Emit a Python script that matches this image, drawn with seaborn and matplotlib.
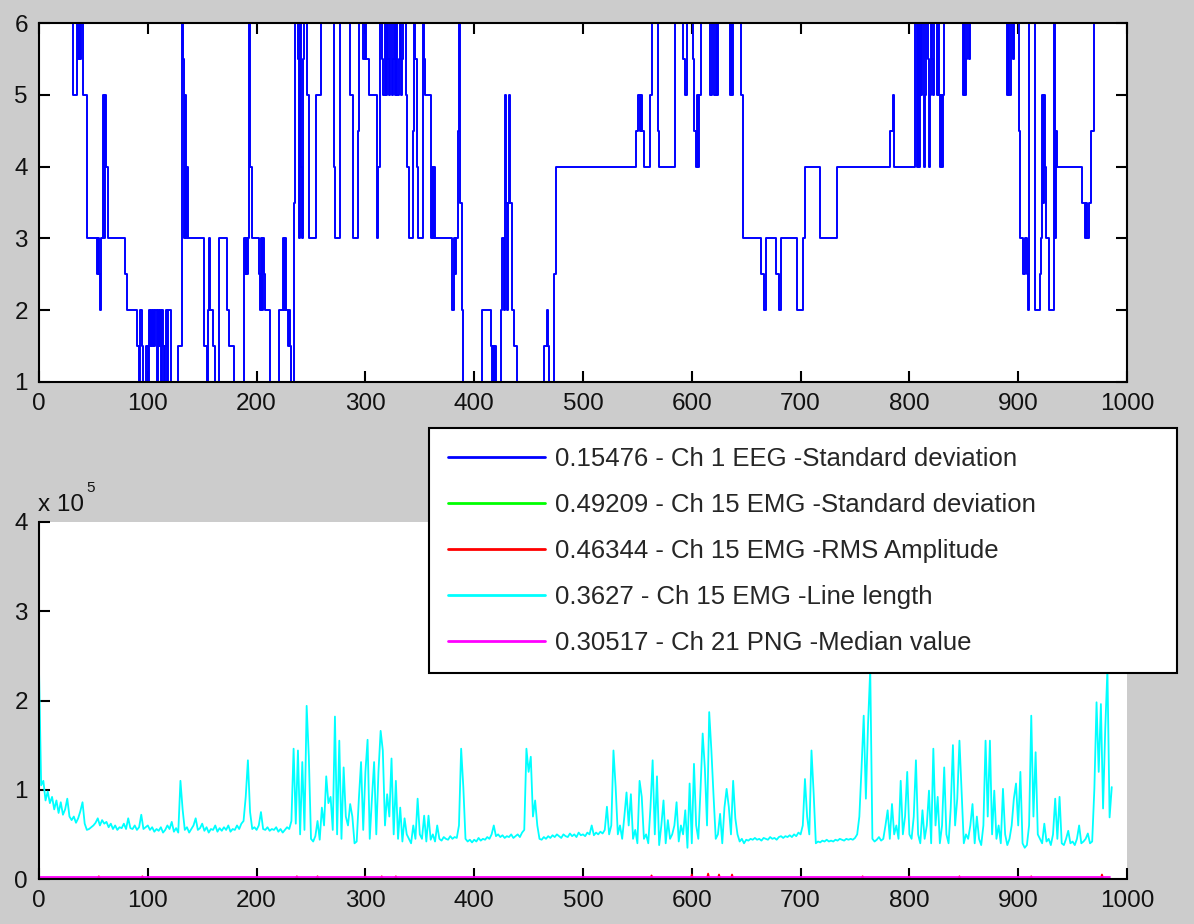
import matplotlib
matplotlib.use("Agg")
import matplotlib.pyplot as plt
import numpy as np
import pandas as pd
import seaborn as sns

# ---------------- top panel: stage series (change points, steps-post) ----------------
stage_x_a = [30, 31, 35, 36, 37, 38, 39, 40, 44, 53, 54, 55, 56, 57, 59, 60, 61, 62, 63, 79, 81, 90]
stage_y_a = [6, 5, 6, 5.5, 6, 5.5, 6, 5, 3, 2.5, 3, 2.5, 2, 3, 5, 3, 5, 4, 3, 2.5, 2, 1.5]

stage_x_b = [92, 93, 95, 96, 98, 100, 101, 102, 103, 104, 105, 106, 107, 108, 109, 110, 111, 112, 113, 114,
             115, 116, 117, 118, 119, 121, 128]
stage_y_b = [1, 2, 1.5, 1, 1.5, 1, 2, 1.5, 2, 1.5, 2, 1.5, 2, 1, 2, 1.5, 2, 1, 2, 1.5,
             1, 1.5, 2, 1, 2, 1, 1.5]

stage_x_c = [131, 132, 133, 134, 135, 136, 137, 152, 154, 155, 156, 157, 160, 162, 165, 173, 175, 179, 188, 189,
             190, 191, 192, 193, 194, 196, 202, 203, 204, 205, 206, 207, 208, 212, 221, 224, 225, 226, 227, 229,
             230, 231, 232, 234]
stage_y_c = [6, 5.5, 3, 5, 3, 4, 3, 1.5, 1, 2, 3, 2, 1.5, 1, 3, 2, 1.5, 1, 3, 2.5,
             3, 2.5, 3, 6, 4, 3, 2.5, 2, 3, 2, 3, 2.5, 2, 1, 2, 3, 2, 3, 2, 1.5,
             2, 1.5, 1, 3.5]

stage_x_d = [235, 238, 239, 240, 241, 242, 243, 244, 246, 248, 255, 259, 271, 272, 277, 286, 289, 293, 294, 298,
             300, 301, 303, 311, 312, 313, 315, 316, 318, 319, 320, 321, 322, 323, 324, 325, 326, 327, 328, 329,
             331, 332, 333, 334, 335]
stage_y_d = [6, 5.5, 3, 6, 4, 3, 5.5, 6, 5, 3, 5, 6, 4, 3, 6, 5, 3, 4.5, 6, 5.5,
             6, 5.5, 5, 3, 4, 6, 5.5, 5, 6, 5, 6, 5.5, 5, 6, 5, 5.5, 6, 5, 6, 5,
             5.5, 6, 5, 5.5, 6]

stage_x_e = [337, 338, 340, 344, 345, 346, 347, 348, 353, 354, 355, 360, 361, 362, 363, 364, 380, 381, 382, 383,
             385, 386, 387, 389, 390, 407, 415, 416, 417, 418, 419, 420, 425, 426, 427, 428, 429, 430, 431, 432,
             433, 435, 437, 439, 464, 467, 468, 469, 473, 475]
stage_y_e = [5, 4, 3, 4.5, 6, 5.5, 4, 3, 6, 5.5, 5, 3, 4, 3, 4, 3, 2, 3, 2.5, 3,
             4.5, 6, 3.5, 2, 1, 2, 1.5, 1, 1.5, 1, 1.5, 1, 2, 3, 2, 5, 3.5, 2, 3.5, 5,
             3.5, 2, 1.5, 1, 1.5, 2, 1.5, 1, 2.5, 4]

stage_x_f = [549, 551, 552, 553, 554, 556, 562, 563, 569, 570, 585, 592, 594, 596, 601, 602, 604, 605, 606, 607,
             608, 617, 619, 620, 622, 623, 624, 635, 636, 637, 638, 645, 647]
stage_y_f = [4.5, 5, 4.5, 5, 4.5, 4, 5, 6, 4.5, 4, 6, 5.5, 5, 6, 5.5, 4.5, 4, 5, 4, 5,
             6, 5, 6, 5, 6, 5, 6, 5, 6, 5, 6, 5, 3]

stage_x_g = [664, 666, 668, 677, 680, 682, 697, 702, 704, 718, 733, 782, 785, 786, 805, 807, 808, 809, 810, 811,
             812, 813, 814, 815, 817, 818, 819, 820, 821, 822, 823, 825, 826, 827, 828, 829, 830, 831, 832, 849,
             850, 851, 852, 853, 855, 856, 890, 891, 892, 893, 895, 896, 901, 902, 904, 906, 908, 909, 910, 915,
             920, 921, 922, 923, 924, 925, 926, 928, 933, 934, 935, 936, 959, 961, 962, 963, 965, 967, 970]
stage_y_g = [2.5, 2, 3, 2.5, 2, 3, 2, 3, 4, 3, 4, 4.5, 5, 4, 6, 4, 6, 4, 6, 5,
             6, 4, 5, 6, 5.5, 4, 5, 6, 5.5, 5, 6, 5, 6, 5, 4, 5, 4, 5, 6, 5,
             6, 5, 5.5, 6, 5.5, 6, 5, 6, 5, 6, 5.5, 6, 4.5, 3, 2.5, 3, 2.5, 2, 6, 2,
             2.5, 3, 5, 3.5, 5, 4, 3, 2, 6, 3, 4.5, 4, 3.5, 3, 3.5, 3, 3.5, 4.5, 6]

# ---------------- bottom panel: features (units of 1e5), sampled every 2 epochs ----------------
line_length_e5 = [
    2.35, 1.05, 1.10, 0.88, 0.98, 0.85, 0.92, 0.78, 0.88, 0.74, 0.86, 0.72, 0.78, 0.90, 0.70, 0.66, 0.70, 0.63, 0.68, 0.76, 0.86, 0.62, 0.55, 0.56, 0.58,
    0.60, 0.63, 0.68, 0.60, 0.66, 0.62, 0.64, 0.58, 0.62, 0.56, 0.60, 0.55, 0.58, 0.57, 0.62, 0.56, 0.68, 0.57, 0.56, 0.60, 0.55, 0.58, 0.72, 0.56, 0.58,
    0.60, 0.55, 0.58, 0.53, 0.56, 0.54, 0.58, 0.52, 0.55, 0.60, 0.56, 0.64, 0.53, 0.57, 0.52, 1.10, 0.78, 0.55, 0.58, 0.52, 0.56, 0.60, 0.68, 0.55, 0.57,
    0.62, 0.54, 0.58, 0.52, 0.56, 0.55, 0.60, 0.53, 0.57, 0.54, 0.58, 0.55, 0.60, 0.53, 0.56, 0.55, 0.60, 0.56, 0.62, 0.65, 0.92, 1.33, 0.75, 0.56, 0.58,
    0.55, 0.60, 0.75, 0.56, 0.55, 0.58, 0.54, 0.56, 0.55, 0.58, 0.53, 0.56, 0.52, 0.55, 0.58, 0.56, 0.65, 1.46, 0.62, 1.44, 0.50, 1.31, 0.55, 1.94, 1.37,
    0.45, 0.42, 0.48, 0.65, 0.44, 0.80, 0.60, 1.15, 0.85, 0.92, 0.55, 1.82, 0.50, 1.55, 0.45, 1.25, 0.70, 0.60, 0.84, 0.70, 0.40, 0.42, 0.90, 1.31, 0.55,
    1.20, 1.56, 0.45, 0.90, 1.31, 0.50, 1.20, 1.66, 1.44, 0.60, 0.95, 0.70, 1.35, 0.50, 1.10, 0.45, 0.80, 0.42, 0.68, 0.50, 0.45, 0.40, 0.60, 0.45, 0.90,
    0.50, 0.45, 0.71, 0.42, 0.71, 0.44, 0.50, 0.42, 0.60, 0.45, 0.43, 0.47, 0.45, 0.44, 0.48, 0.45, 0.47, 0.46, 0.60, 1.46, 1.03, 0.45, 0.42, 0.44, 0.41,
    0.44, 0.42, 0.46, 0.43, 0.45, 0.44, 0.47, 0.45, 0.50, 0.60, 0.48, 0.50, 0.47, 0.49, 0.46, 0.48, 0.47, 0.50, 0.46, 0.48, 0.50, 0.47, 0.52, 0.55, 1.46,
    1.20, 1.37, 0.70, 0.88, 0.60, 0.45, 0.44, 0.47, 0.45, 0.48, 0.46, 0.49, 0.47, 0.50, 0.48, 0.46, 0.50, 0.48, 0.47, 0.51, 0.48, 0.50, 0.47, 0.52, 0.49,
    0.50, 0.48, 0.52, 0.50, 0.60, 0.49, 0.52, 0.50, 0.53, 0.51, 0.55, 0.81, 0.50, 0.60, 1.44, 1.03, 0.50, 0.60, 0.45, 0.70, 0.97, 0.60, 0.95, 0.45, 0.55,
    0.40, 1.10, 0.92, 0.45, 0.50, 0.40, 0.80, 1.33, 0.50, 1.15, 0.38, 0.60, 0.88, 0.40, 0.66, 0.45, 0.50, 0.60, 0.86, 0.42, 0.60, 0.50, 0.77, 0.35, 1.07,
    0.40, 1.29, 0.60, 0.45, 1.00, 1.63, 1.24, 0.60, 1.87, 1.44, 0.93, 0.45, 0.50, 0.73, 0.40, 0.80, 1.01, 0.81, 0.50, 1.10, 0.68, 0.50, 0.42, 0.45, 0.40,
    0.44, 0.43, 0.45, 0.44, 0.46, 0.44, 0.45, 0.43, 0.46, 0.45, 0.44, 0.47, 0.45, 0.46, 0.44, 0.47, 0.48, 0.46, 0.48, 0.47, 0.49, 0.47, 0.50, 0.48, 0.52,
    0.50, 0.60, 1.12, 0.70, 0.50, 1.44, 0.96, 0.40, 0.42, 0.41, 0.43, 0.42, 0.44, 0.42, 0.43, 0.42, 0.44, 0.43, 0.45, 0.44, 0.43, 0.45, 0.44, 0.45, 0.44,
    0.46, 0.50, 0.70, 1.24, 1.83, 0.90, 1.74, 2.35, 0.45, 0.42, 0.44, 0.47, 0.43, 0.45, 0.60, 0.77, 0.45, 0.84, 0.50, 0.60, 0.45, 1.10, 0.50, 0.70, 1.20,
    0.50, 0.45, 0.70, 1.33, 0.50, 0.40, 0.77, 0.45, 0.60, 0.99, 0.40, 1.46, 0.60, 0.92, 0.40, 0.60, 1.25, 0.50, 0.40, 0.80, 1.50, 0.60, 0.90, 1.55, 0.96,
    0.40, 0.50, 0.45, 0.60, 0.84, 0.40, 0.70, 0.45, 0.38, 0.60, 1.55, 0.70, 1.55, 0.50, 0.99, 0.45, 0.60, 0.40, 1.01, 0.50, 0.38, 0.45, 0.60, 0.90, 1.07,
    0.60, 1.20, 0.40, 0.35, 0.38, 0.60, 1.83, 0.70, 1.42, 0.50, 0.45, 0.40, 0.62, 0.42, 0.45, 0.38, 0.50, 0.90, 0.45, 0.92, 0.40, 0.38, 0.45, 0.54, 0.40,
    0.42, 0.38, 0.45, 0.60, 0.40, 0.42, 0.45, 0.51, 0.40, 0.42, 1.01, 1.98, 1.20, 1.96, 0.79, 1.68, 2.35, 0.69, 1.03,
]
EPOCH_STEP = 2

rms_x = [0, 54, 55, 56, 94, 95, 96, 236, 237, 238, 255, 256, 257, 299, 300, 301, 314, 315, 316, 327, 328, 329,
         562, 563, 564, 599, 600, 601, 614, 615, 616, 624, 625, 626, 636, 637, 638, 756, 757, 758, 799, 800, 801,
         845, 846, 847, 911, 912, 913, 976, 977, 978, 984]
rms_y = [0.005, 0.005, 0.03, 0.005, 0.005, 0.03, 0.005, 0.005, 0.03, 0.005, 0.005, 0.03, 0.005, 0.005, 0.03, 0.005,
         0.005, 0.03, 0.005, 0.005, 0.03, 0.005, 0.005, 0.04, 0.005, 0.005, 0.05, 0.005, 0.005, 0.06, 0.005, 0.005,
         0.05, 0.005, 0.005, 0.05, 0.005, 0.005, 0.03, 0.005, 0.005, 0.03, 0.005, 0.005, 0.03, 0.005, 0.005, 0.03,
         0.005, 0.005, 0.05, 0.005, 0.005]

flat_x = [0, 984]
eeg_std_y = [0.002, 0.002]
emg_std_y = [0.004, 0.004]
png_median_y = [0.028, 0.028]

legend_labels = [
    "0.15476 - Ch 1 EEG -Standard deviation",
    "0.49209 - Ch 15 EMG -Standard deviation",
    "0.46344 - Ch 15 EMG -RMS Amplitude",
    "0.3627 - Ch 15 EMG -Line length",
    "0.30517 - Ch 21 PNG -Median value",
]
series_colors = ["#0000ff", "#00ff00", "#ff0000", "#00ffff", "#ff00ff"]
x_ticks = [0, 100, 200, 300, 400, 500, 600, 700, 800, 900, 1000]
top_y_ticks = [1, 2, 3, 4, 5, 6]
bottom_y_ticks = [0, 1, 2, 3, 4]

# ---------------- build tables ----------------
stage_x = stage_x_a + stage_x_b + stage_x_c + stage_x_d + stage_x_e + stage_x_f + stage_x_g
stage_y = stage_y_a + stage_y_b + stage_y_c + stage_y_d + stage_y_e + stage_y_f + stage_y_g
assert len(stage_x) == len(stage_y)
assert len(rms_x) == len(rms_y)
top_df = pd.DataFrame({"epoch": stage_x, "stage": stage_y})
cyan_df = pd.DataFrame({"epoch": np.arange(len(line_length_e5)) * EPOCH_STEP, "value": line_length_e5})

# ---------------- style ----------------
sns.set_style("ticks")
plt.rcParams["font.family"] = ["Liberation Sans", "DejaVu Sans"]
FIG_BG = "#cccccc"
W, H = 1194, 924

fig = plt.figure(figsize=(W / 100, H / 100), dpi=100, facecolor=FIG_BG)
ax1 = fig.add_axes([39 / W, 1 - 382 / H, 1088 / W, 359 / H])
ax2 = fig.add_axes([39 / W, 1 - 879 / H, 1088 / W, 357 / H])

sns.lineplot(data=top_df, x="epoch", y="stage", ax=ax1, color=series_colors[0], lw=1.4,
             drawstyle="steps-post", estimator=None, sort=False)

bottom_series = [
    pd.DataFrame({"epoch": flat_x, "value": eeg_std_y}),
    pd.DataFrame({"epoch": flat_x, "value": emg_std_y}),
    pd.DataFrame({"epoch": rms_x, "value": rms_y}),
    cyan_df,
    pd.DataFrame({"epoch": flat_x, "value": png_median_y}),
]
for df, col, lab in zip(bottom_series, series_colors, legend_labels):
    sns.lineplot(data=df, x="epoch", y="value", ax=ax2, color=col, lw=1.3,
                 estimator=None, sort=False, label=lab)
if ax2.get_legend() is not None:
    ax2.get_legend().remove()

for ax in (ax1, ax2):
    ax.set_facecolor("white")
    ax.set_xlim(0, 1000)
    ax.set_xticks(x_ticks)
    ax.set_xlabel("")
    ax.set_ylabel("")
    ax.tick_params(direction="in", length=8, width=1.5, labelsize=17.5, pad=8,
                   colors="black", labelcolor="#111111")

ax1.set_ylim(1, 6)
ax1.set_yticks(top_y_ticks)
ax1.tick_params(top=True, right=True)
for s in ax1.spines.values():
    s.set_visible(True)
    s.set_linewidth(1.5)
    s.set_color("black")

ax2.set_ylim(0, 4)
ax2.set_yticks(bottom_y_ticks)
ax2.tick_params(top=False, right=False)
ax2.spines["top"].set_visible(False)
ax2.spines["right"].set_visible(False)
for k in ("left", "bottom"):
    ax2.spines[k].set_linewidth(1.5)
    ax2.spines[k].set_color("black")

# exponent label
fig.text(38 / W, 1 - 511 / H, "x 10", fontsize=17.5, color="#111111", va="baseline", ha="left")
fig.text(86 / W, 1 - 492 / H, "5", fontsize=11, color="#111111", va="baseline", ha="left")

# legend
handles = ax2.get_lines()[:5]
leg = fig.legend(handles, legend_labels, loc="upper left",
                 bbox_to_anchor=(429 / W, 1 - 672 / H, 748 / W, 244 / H), mode="expand",
                 fontsize=18.5, frameon=True, fancybox=False, framealpha=1, edgecolor="black",
                 facecolor="white", handlelength=3.8, handletextpad=0.4, labelspacing=0.86,
                 borderpad=0.72, borderaxespad=0)
leg.get_frame().set_linewidth(1.5)
for h in leg.get_lines():
    h.set_linewidth(2)

fig.savefig("out.png", dpi=100, facecolor=FIG_BG)
